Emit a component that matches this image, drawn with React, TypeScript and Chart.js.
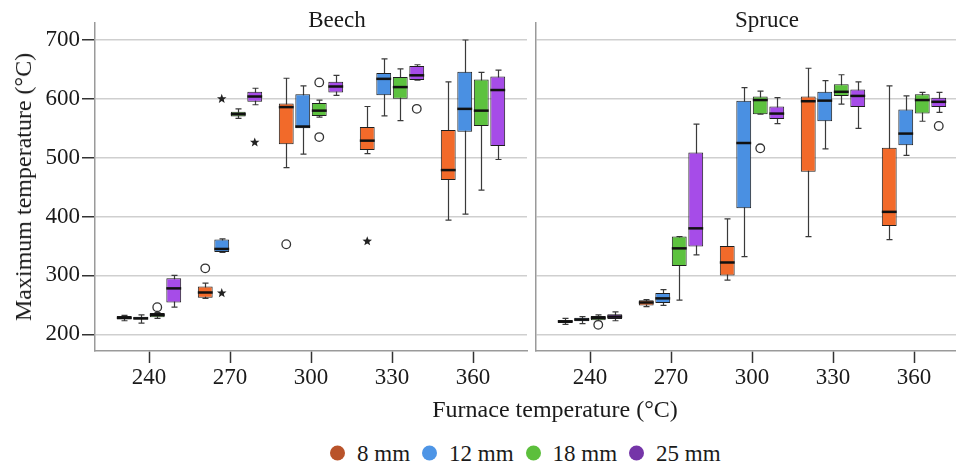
import React, { useEffect, useRef } from 'react';
import { Chart, registerables } from 'chart.js';

Chart.register(...registerables);

const FONT = '"Liberation Serif", "Times New Roman", serif';
const TEXT_COLOR = '#1a1a1a';

// ---------- DATA ----------
const TEMPERATURES = [240, 270, 300, 330, 360];
const Y_TICKS = [200, 300, 400, 500, 600, 700];
const THICKNESSES = ['8 mm', '12 mm', '18 mm', '25 mm'];

// Each row: [min, q1, median, q3, max] for one furnace temperature
const BEECH_8MM = [
  [223, 225, 228, 231, 232],
  [261, 262, 271, 281, 287],
  [483, 523, 586, 592, 635],
  [507, 513, 529, 552, 587],
  [394, 462, 479, 547, 629],
];
const BEECH_12MM = [
  [219, 225, 227, 230, 233],
  [339, 340, 345, 361, 362],
  [506, 550, 553, 608, 622],
  [571, 606, 634, 644, 668],
  [404, 544, 583, 646, 700],
];
const BEECH_18MM = [
  [227, 229, 233, 236, 237],
  [567, 570, 574, 578, 583],
  [569, 571, 580, 593, 598],
  [563, 600, 620, 637, 651],
  [445, 554, 580, 633, 645],
];
const BEECH_25MM = [
  [246, 254, 278, 295, 300],
  [590, 595, 604, 612, 618],
  [606, 611, 621, 629, 640],
  [632, 632, 640, 656, 658],
  [497, 520, 615, 638, 649],
];

const SPRUCE_8MM = [
  [217, 219, 222, 224, 227],
  [247, 249, 254, 258, 259],
  [292, 300, 322, 350, 396],
  [366, 476, 596, 604, 652],
  [361, 384, 408, 517, 622],
];
const SPRUCE_12MM = [
  [218, 222, 225, 228, 230],
  [249, 253, 261, 270, 276],
  [332, 414, 525, 597, 619],
  [515, 562, 597, 612, 631],
  [504, 521, 541, 582, 605],
];
const SPRUCE_18MM = [
  [222, 224, 228, 231, 233],
  [258, 316, 346, 366, 366],
  [574, 574, 598, 604, 613],
  [591, 605, 612, 625, 641],
  [562, 575, 598, 608, 611],
];
const SPRUCE_25MM = [
  [223, 226, 230, 234, 238],
  [335, 349, 380, 509, 557],
  [558, 566, 575, 587, 602],
  [550, 586, 605, 616, 629],
  [577, 586, 595, 602, 611],
];

type Outlier = { series: number; temp: number; value: number; kind: 'circle' | 'star' };

const BEECH_OUTLIERS: Outlier[] = [
  { series: 2, temp: 240, value: 246, kind: 'circle' },
  { series: 0, temp: 270, value: 312, kind: 'circle' },
  { series: 1, temp: 270, value: 600, kind: 'star' },
  { series: 1, temp: 270, value: 270, kind: 'star' },
  { series: 3, temp: 270, value: 526, kind: 'star' },
  { series: 0, temp: 300, value: 353, kind: 'circle' },
  { series: 2, temp: 300, value: 628, kind: 'circle' },
  { series: 2, temp: 300, value: 535, kind: 'circle' },
  { series: 0, temp: 330, value: 358, kind: 'star' },
  { series: 3, temp: 330, value: 583, kind: 'circle' },
];
const SPRUCE_OUTLIERS: Outlier[] = [
  { series: 2, temp: 240, value: 216, kind: 'circle' },
  { series: 2, temp: 300, value: 516, kind: 'circle' },
  { series: 3, temp: 360, value: 554, kind: 'circle' },
];

// ---------- STYLE ----------
const BOX_COLORS = ['#F26A2A', '#4A90E2', '#5DC23F', '#A64CE8'];
const LEGEND_COLORS = ['#B9532A', '#4E95E6', '#5CBF3C', '#7535A8'];
const Y_MIN = 171.6;
const Y_MAX = 728.9;
const X_MIN = 220;
const X_MAX = 380;

function drawStar(ctx: CanvasRenderingContext2D, x: number, y: number, r: number) {
  ctx.beginPath();
  for (let k = 0; k < 10; k++) {
    const rad = k % 2 === 0 ? r : r * 0.42;
    const a = -Math.PI / 2 + (k * Math.PI) / 5;
    const px = x + rad * Math.cos(a);
    const py = y + rad * Math.sin(a);
    if (k === 0) ctx.moveTo(px, py);
    else ctx.lineTo(px, py);
  }
  ctx.closePath();
  ctx.fill();
}

function boxPlugin(stats: number[][][], outliers: Outlier[]) {
  const CAP = 3;
  return {
    id: 'boxWhiskers',
    beforeDatasetsDraw(chart: any) {
      const ctx = chart.ctx as CanvasRenderingContext2D;
      const y = chart.scales.y;
      ctx.save();
      ctx.strokeStyle = '#3a3a3a';
      ctx.lineWidth = 1.2;
      stats.forEach((rows, s) => {
        const meta = chart.getDatasetMeta(s);
        rows.forEach((r, i) => {
          const bar = meta.data[i];
          if (!bar) return;
          const x = Math.round(bar.x) + 0.5;
          const yMin = y.getPixelForValue(r[0]);
          const yMax = y.getPixelForValue(r[4]);
          ctx.beginPath();
          ctx.moveTo(x, yMin);
          ctx.lineTo(x, yMax);
          ctx.moveTo(x - CAP, yMin);
          ctx.lineTo(x + CAP, yMin);
          ctx.moveTo(x - CAP, yMax);
          ctx.lineTo(x + CAP, yMax);
          ctx.stroke();
        });
      });
      ctx.restore();
    },
    afterDatasetsDraw(chart: any) {
      const ctx = chart.ctx as CanvasRenderingContext2D;
      const y = chart.scales.y;
      ctx.save();
      ctx.strokeStyle = '#111';
      ctx.lineWidth = 2.5;
      stats.forEach((rows, s) => {
        const meta = chart.getDatasetMeta(s);
        rows.forEach((r, i) => {
          const bar = meta.data[i];
          if (!bar) return;
          const ym = y.getPixelForValue(r[2]);
          ctx.beginPath();
          ctx.moveTo(bar.x - bar.width / 2, ym);
          ctx.lineTo(bar.x + bar.width / 2, ym);
          ctx.stroke();
        });
      });
      outliers.forEach((o) => {
        const meta = chart.getDatasetMeta(o.series);
        const bar = meta.data[TEMPERATURES.indexOf(o.temp)];
        if (!bar) return;
        const py = y.getPixelForValue(o.value);
        if (o.kind === 'circle') {
          ctx.beginPath();
          ctx.arc(bar.x, py, 4.3, 0, Math.PI * 2);
          ctx.fillStyle = '#fff';
          ctx.fill();
          ctx.lineWidth = 1.3;
          ctx.strokeStyle = '#333';
          ctx.stroke();
        } else {
          ctx.fillStyle = '#222';
          drawStar(ctx, bar.x, py, 5);
        }
      });
      ctx.restore();
    },
  };
}

function buildDatasets(stats: number[][][]) {
  return stats.map((rows, s) => ({
    label: THICKNESSES[s],
    data: TEMPERATURES.map((t, i) => ({ x: t, y: [rows[i][1], rows[i][3]] })),
    backgroundColor: BOX_COLORS[s],
    borderColor: '#1e1e1e',
    borderWidth: 1,
    borderSkipped: false as const,
    categoryPercentage: 0.815,
    barPercentage: 0.9,
  }));
}

function Panel(props: {
  stats: number[][][];
  outliers: Outlier[];
  showYLabels: boolean;
  left: number;
  width: number;
  yWidth: number;
  padRight: number;
}) {
  const ref = useRef<HTMLCanvasElement>(null);
  useEffect(() => {
    const { stats, outliers, showYLabels, yWidth, padRight } = props;
    const chart = new Chart(ref.current as HTMLCanvasElement, {
      type: 'bar',
      data: { datasets: buildDatasets(stats) as any },
      options: {
        responsive: false,
        maintainAspectRatio: false,
        animation: false,
        devicePixelRatio: 1,
        events: [],
        layout: { padding: { top: 23, right: padRight, left: 0, bottom: 0 } },
        plugins: { legend: { display: false }, tooltip: { enabled: false }, title: { display: false } },
        scales: {
          x: {
            type: 'linear',
            min: X_MIN,
            max: X_MAX,
            offset: false,
            afterBuildTicks: (s: any) => {
              s.ticks = TEMPERATURES.map((v) => ({ value: v }));
            },
            afterFit: (s: any) => {
              s.height = 49;
            },
            grid: {
              display: true,
              drawOnChartArea: false,
              drawTicks: true,
              tickLength: 12,
              tickColor: '#333',
              tickWidth: 1.5,
              offset: false,
            },
            border: { display: true, color: '#9a9a9a', width: 1.5 },
            ticks: {
              font: { family: FONT, size: 23 },
              color: TEXT_COLOR,
              padding: 1,
              maxRotation: 0,
              autoSkip: false,
            },
          },
          y: {
            type: 'linear',
            min: Y_MIN,
            max: Y_MAX,
            afterBuildTicks: (s: any) => {
              s.ticks = Y_TICKS.map((v) => ({ value: v }));
            },
            afterFit: (s: any) => {
              s.width = yWidth;
            },
            grid: {
              color: '#cfcfcf',
              lineWidth: 1.5,
              drawTicks: showYLabels,
              tickLength: 13,
              tickColor: '#333',
              tickWidth: 1.5,
            },
            border: { display: true, color: '#9a9a9a', width: 1.5 },
            ticks: {
              display: showYLabels,
              font: { family: FONT, size: 23 },
              color: TEXT_COLOR,
              padding: 2,
            },
          },
        },
      } as any,
      plugins: [boxPlugin(stats, outliers)],
    });
    return () => chart.destroy();
  }, []);
  return (
    <canvas
      ref={ref}
      width={props.width}
      height={400}
      style={{ position: 'absolute', left: props.left, top: 0, width: props.width, height: 400 }}
    />
  );
}

const textStyle: React.CSSProperties = {
  position: 'absolute',
  fontFamily: FONT,
  color: TEXT_COLOR,
  whiteSpace: 'nowrap',
  lineHeight: 1,
};

export default function App() {
  return (
    <div
      style={{
        position: 'fixed',
        left: 0,
        top: 0,
        width: 956,
        height: 467,
        overflow: 'hidden',
        background: '#fff',
      }}
    >
      <Panel
        stats={[BEECH_8MM, BEECH_12MM, BEECH_18MM, BEECH_25MM]}
        outliers={BEECH_OUTLIERS}
        showYLabels={true}
        left={0}
        width={531}
        yWidth={95}
        padRight={4}
      />
      <Panel
        stats={[SPRUCE_8MM, SPRUCE_12MM, SPRUCE_18MM, SPRUCE_25MM]}
        outliers={SPRUCE_OUTLIERS}
        showYLabels={false}
        left={526}
        width={442}
        yWidth={10}
        padRight={0}
      />
      <div style={{ ...textStyle, fontSize: 23, left: 337, top: 19, transform: 'translate(-50%, -50%)' }}>Beech</div>
      <div style={{ ...textStyle, fontSize: 23, left: 767, top: 19, transform: 'translate(-50%, -50%)' }}>Spruce</div>
      <div
        style={{
          ...textStyle,
          fontSize: 24,
          left: 23,
          top: 187,
          transform: 'translate(-50%, -50%) rotate(-90deg)',
        }}
      >
        Maximum temperature (°C)
      </div>
      <div style={{ ...textStyle, fontSize: 24, left: 555, top: 409, transform: 'translate(-50%, -50%)' }}>
        Furnace temperature (°C)
      </div>
      <div
        style={{
          position: 'absolute',
          left: 330,
          top: 453,
          transform: 'translateY(-50%)',
          display: 'flex',
          alignItems: 'center',
          fontFamily: FONT,
          fontSize: 23,
          color: TEXT_COLOR,
          whiteSpace: 'nowrap',
          lineHeight: 1,
        }}
      >
        {THICKNESSES.map((t, i) => (
          <span key={t} style={{ display: 'flex', alignItems: 'center', marginRight: 12 }}>
            <span
              style={{
                display: 'inline-block',
                width: 15,
                height: 15,
                borderRadius: '50%',
                background: LEGEND_COLORS[i],
                marginRight: 12,
              }}
            />
            <span>{t}</span>
          </span>
        ))}
      </div>
    </div>
  );
}
